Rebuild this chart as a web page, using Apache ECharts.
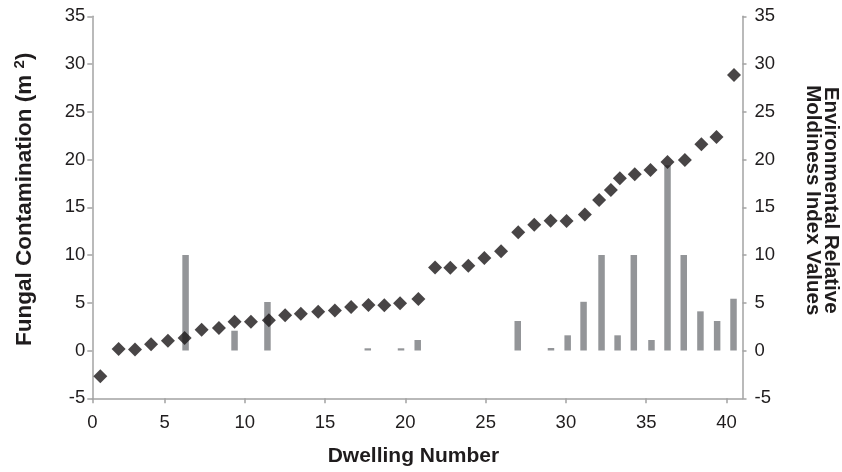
<!DOCTYPE html>
<html>
<head>
<meta charset="utf-8">
<script src="https://cdn.jsdelivr.net/npm/echarts@6/dist/echarts.min.js"></script>
<style>
html,body{margin:0;padding:0;background:#fff;overflow:hidden;width:842px;height:472px;}
#chart{width:842px;height:472px;}
</style>
</head>
<body>
<div id="chart"></div>
<script>
// ---- data ----
const dwellingX = [1.0, 2.14, 3.16, 4.16, 5.21, 6.25, 7.31, 8.39, 9.36, 10.38,
  11.5, 12.51, 13.49, 14.57, 15.61, 16.62, 17.7, 18.69, 19.67, 20.81,
  21.85, 22.8, 23.92, 24.92, 25.96, 27.03, 28.03, 29.05, 30.04, 31.18,
  32.07, 32.8, 33.36, 34.29, 35.27, 36.33, 37.41, 38.44, 39.38, 40.47];
const fungalContamination = [-2.7, 0.15, 0.1, 0.66, 1.03, 1.3, 2.18, 2.35, 3.02, 3.0,
  3.16, 3.68, 3.85, 4.06, 4.18, 4.55, 4.76, 4.73, 4.94, 5.39,
  8.69, 8.67, 8.88, 9.69, 10.39, 12.38, 13.17, 13.59, 13.56, 14.24,
  15.76, 16.8, 18.03, 18.45, 18.9, 19.74, 19.95, 21.6, 22.36, 28.85];
const ermiX = [6.31, 9.36, 11.41, 17.66, 19.73, 20.77, 27.0, 29.07, 30.11, 31.1,
  32.22, 33.22, 34.23, 35.33, 36.33, 37.34, 38.38, 39.42, 40.44];
const ermiValues = [10, 2.07, 5.08, 0.23, 0.23, 1.1, 3.09, 0.26, 1.59, 5.1,
  10, 1.59, 10, 1.1, 19.4, 10, 4.1, 3.09, 5.42];
const xTicks = [0, 5, 10, 15, 20, 25, 30, 35, 40];
const xTickLabels = ['0', '5', '10', '15', '20', '25', '30', '35', '40'];
const xAxisMin = 0.5, xAxisMax = 41;
const yMin = -5, yMax = 35, yStep = 5;

const FONT = "'Liberation Sans', Arial, Helvetica, sans-serif";
const TXT = '#1f1c1d';
const AX = '#a3a3a3';

const xTickPos = xTicks.map(v => Math.max(v, xAxisMin));

const chart = echarts.init(document.getElementById('chart'), null, {renderer: 'canvas', width: 842, height: 472});
chart.setOption({
  animation: false,
  backgroundColor: '#fff',
  textStyle: {fontFamily: FONT},
  grid: {left: 92.3, right: 99.5, top: 16.25, bottom: 73.75, containLabel: false, outerBoundsMode: 'none'},
  xAxis: {
    type: 'value', min: xAxisMin, max: xAxisMax,
    name: 'Dwelling Number', nameLocation: 'middle', nameGap: 47,
    nameTextStyle: {fontFamily: FONT, fontWeight: 'bold', fontSize: 21, color: TXT, padding: [0, 8, 0, 0]},
    axisLine: {show: true, onZero: false, lineStyle: {color: AX, width: 1.5}},
    axisTick: {show: true, length: 5, lineStyle: {color: AX, width: 1.5}, customValues: xTickPos},
    axisLabel: {
      fontFamily: FONT, fontSize: 18.5, color: TXT, margin: 15,
      customValues: xTickPos,
      formatter: v => xTickLabels[xTickPos.indexOf(v)] ?? ''
    },
    splitLine: {show: false}
  },
  yAxis: [{
    type: 'value', min: yMin, max: yMax, interval: yStep, position: 'left',
    name: 'Fungal Contamination (m {sup|2})', nameLocation: 'middle', nameGap: 55,
    nameTextStyle: {fontFamily: FONT, fontWeight: 'bold', fontSize: 22.5, color: TXT, padding: [0, 0, 0, 16],
      rich: {sup: {fontFamily: FONT, fontWeight: 'bold', fontSize: 15, color: TXT, verticalAlign: 'top', padding: [0, 0, 10, 0]}}},
    axisLine: {show: true, onZero: false, lineStyle: {color: AX, width: 1.5}},
    axisTick: {show: true, length: 5, lineStyle: {color: AX, width: 1.5}},
    axisLabel: {fontFamily: FONT, fontSize: 18.5, color: TXT, margin: 7},
    splitLine: {show: false}
  }, {
    type: 'value', min: yMin, max: yMax, interval: yStep, position: 'right',
    name: 'Environmental Relative\nMoldiness Index Values', nameLocation: 'middle', nameGap: 61, nameRotate: -90,
    nameTextStyle: {fontFamily: FONT, fontWeight: 'bold', fontSize: 20.5, color: TXT, lineHeight: 18, padding: [0, 14, 0, 0]},
    axisLine: {show: true, onZero: false, lineStyle: {color: AX, width: 1.5}},
    axisTick: {show: true, length: 4, lineStyle: {color: AX, width: 1.5}},
    axisLabel: {fontFamily: FONT, fontSize: 18.5, color: TXT, margin: 12},
    splitLine: {show: false}
  }],
  series: [{
    name: 'ERMI', type: 'bar', yAxisIndex: 1, barWidth: 6.5,
    itemStyle: {color: '#939598'},
    data: ermiX.map((x, i) => [x, ermiValues[i]]),
    z: 1
  }, {
    name: 'Fungal', type: 'scatter', yAxisIndex: 0, symbol: 'diamond', symbolSize: 14,
    itemStyle: {color: '#1a1718'},
    data: dwellingX.map((x, i) => [x, fungalContamination[i]]),
    z: 3
  }]
});
</script>
</body>
</html>
